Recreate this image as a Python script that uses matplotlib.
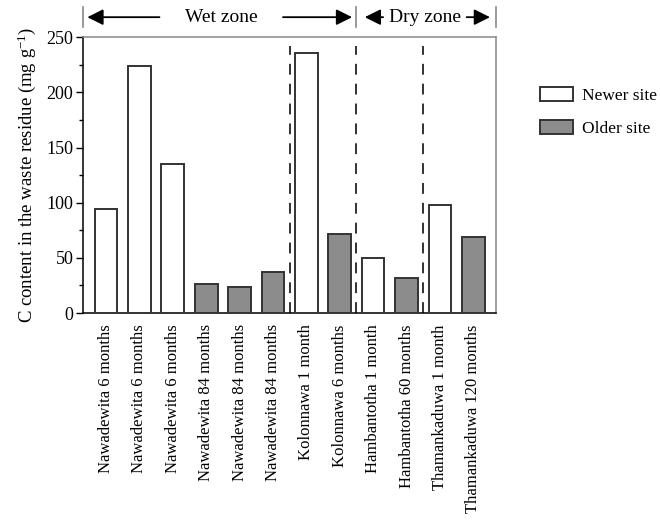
import matplotlib
matplotlib.use('Agg')
import matplotlib.pyplot as plt
import numpy as np
from matplotlib.patches import Patch

plt.rcParams['font.family'] = ['Liberation Serif', 'DejaVu Serif']
plt.rcParams['mathtext.fontset'] = 'custom'
plt.rcParams['mathtext.rm'] = 'Liberation Serif'
plt.rcParams['mathtext.it'] = 'Liberation Serif:italic'

labels = ["Nawadewita 6 months", "Nawadewita 6 months", "Nawadewita 6 months",
          "Nawadewita 84 months", "Nawadewita 84 months", "Nawadewita 84 months",
          "Kolonnawa 1 month", "Kolonnawa 6 months",
          "Hambantotha 1 month", "Hambantotha 60 months",
          "Thamankaduwa 1 month", "Thamankaduwa 120 months"]
values = [94, 224, 135, 26, 24, 37, 236, 72, 50, 32, 98, 69]
site = ["new", "new", "new", "old", "old", "old", "new", "old", "new", "old", "new", "old"]
dividers = [5.5, 7.5, 9.5]

colors = {"new": "white", "old": "#8c8c8c"}

fig = plt.figure(figsize=(6.6, 5.21), dpi=100)
ax = fig.add_axes([0.1258, 0.3992, 0.6257, 0.5292])

x = np.arange(len(values))
ax.bar(x, values, width=0.68, color=[colors[s] for s in site],
       edgecolor="#333333", linewidth=1.4, zorder=3)

for d in dividers:
    ax.axvline(d, ymin=0, ymax=0.97, color="#222222", linestyle=(0, (6, 5)),
               linewidth=1.3, zorder=2)

ax.set_xlim(-0.69, 11.68)
ax.set_ylim(0, 250)
ax.set_yticks(np.arange(0, 251, 50))
ax.set_yticks(np.arange(0, 251, 25), minor=True)
ax.tick_params(axis='y', which='major', length=5, width=1, labelsize=13, pad=2)
ax.tick_params(axis='y', which='minor', length=3, width=1)
ax.set_xticks(x)
ax.set_xticklabels(labels, rotation=90, fontsize=12)
ax.tick_params(axis='x', length=0, pad=8)
ax.set_ylabel("C content in the waste residue (mg g$^{\\mathrm{-1}}$)", fontsize=13.5, labelpad=6)

ax.spines['left'].set_color('black')
ax.spines['bottom'].set_color('black')
ax.spines['top'].set_color('#888888')
ax.spines['right'].set_color('#888888')
for s in ax.spines.values():
    s.set_linewidth(1.1)

# zone annotation above the axes
ytxt = 1.073
tr = ax.get_xaxis_transform()
for xv in [-0.69, 7.5, 11.68]:
    ax.plot([xv, xv], [1.037, 1.11], transform=tr, color="#888888", lw=1.2, clip_on=False)
arrow = dict(arrowstyle='-|>,head_length=0.8,head_width=0.4', color='black', lw=1.3,
             mutation_scale=12, shrinkA=0, shrinkB=0)
ax.annotate("", xy=(-0.56, ytxt), xytext=(1.6, ytxt), xycoords=tr, textcoords=tr, arrowprops=arrow)
ax.text(3.45, ytxt, "Wet zone", transform=tr, ha='center', va='center', fontsize=14)
ax.annotate("", xy=(7.37, ytxt), xytext=(5.3, ytxt), xycoords=tr, textcoords=tr, arrowprops=arrow)
ax.annotate("", xy=(7.75, ytxt), xytext=(8.3, ytxt), xycoords=tr, textcoords=tr, arrowprops=arrow)
ax.text(9.55, ytxt, "Dry zone", transform=tr, ha='center', va='center', fontsize=14)
ax.annotate("", xy=(11.5, ytxt), xytext=(10.8, ytxt), xycoords=tr, textcoords=tr, arrowprops=arrow)

handles = [Patch(facecolor="white", edgecolor="#333333", linewidth=1.4, label="Newer site"),
           Patch(facecolor="#8c8c8c", edgecolor="#333333", linewidth=1.4, label="Older site")]
fig.legend(handles=handles, loc='upper left', bbox_to_anchor=(0.818, 0.833), frameon=False,
           fontsize=12.5, handlelength=1.9, handleheight=0.9, labelspacing=0.9, handletextpad=0.5,
           borderaxespad=0, borderpad=0)

fig.savefig("out.png", dpi=100)
